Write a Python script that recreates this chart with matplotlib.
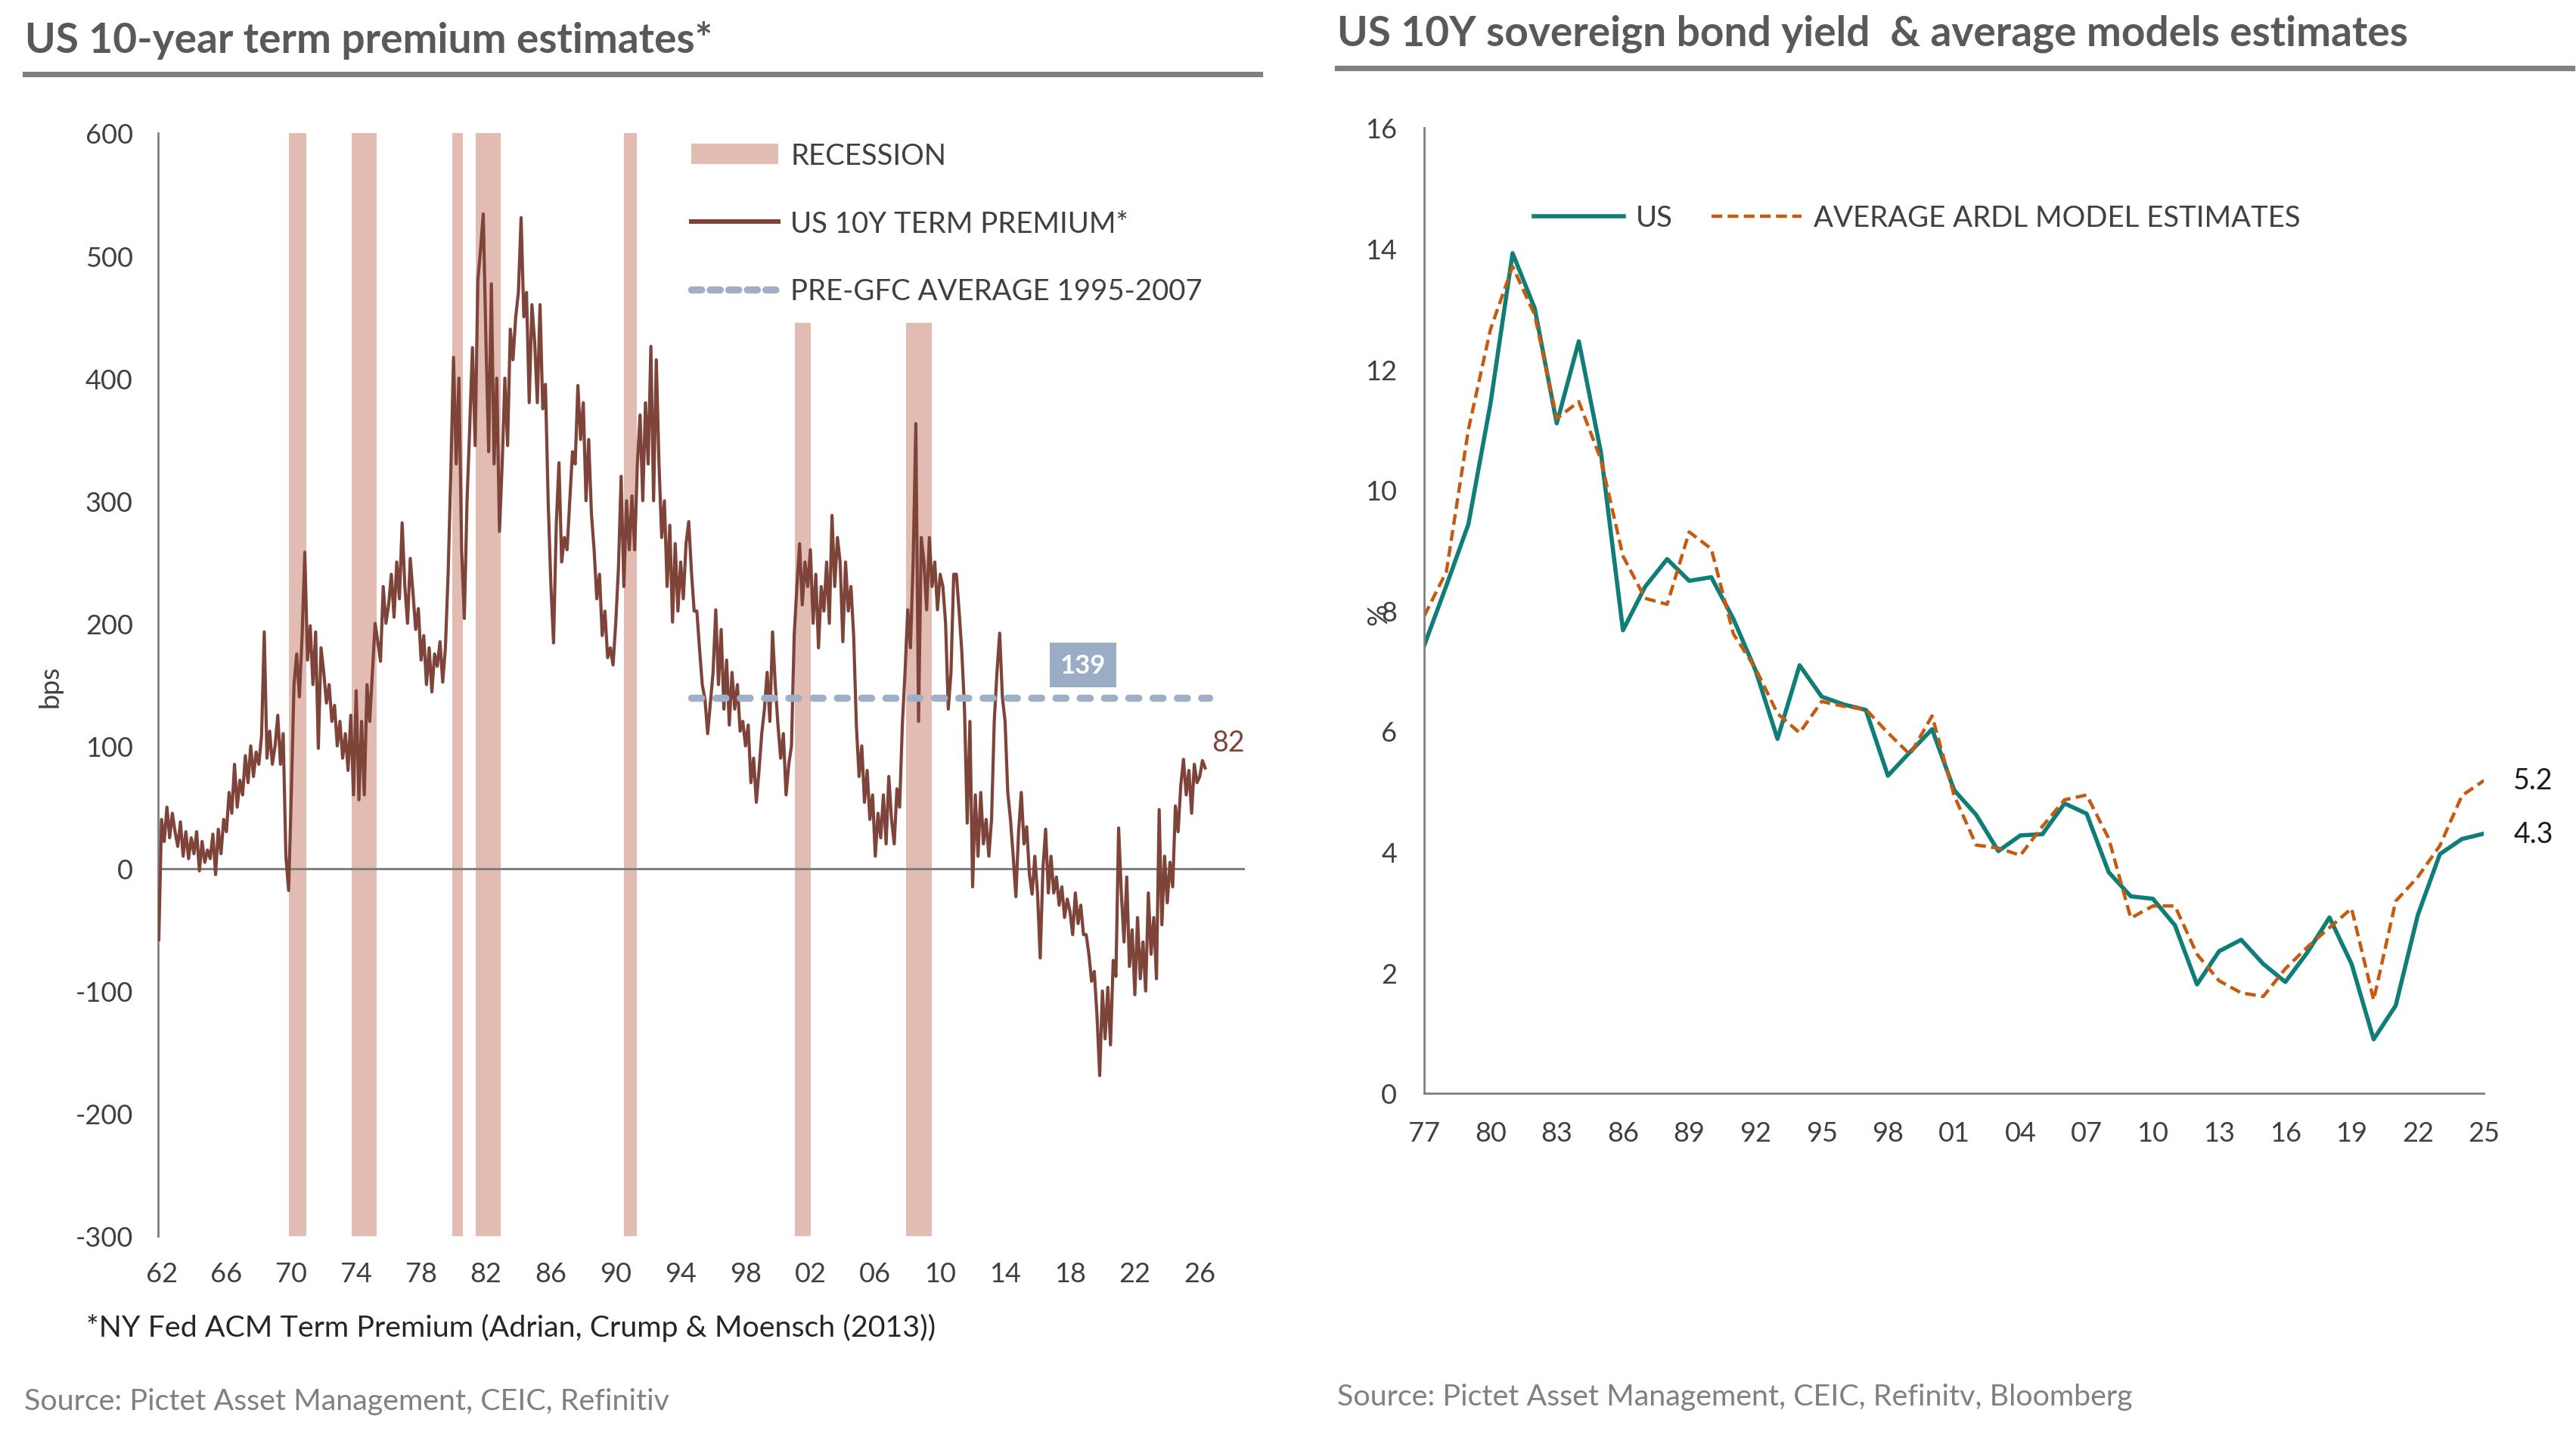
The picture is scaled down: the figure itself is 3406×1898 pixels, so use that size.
import numpy as np
import matplotlib
matplotlib.use('Agg')
import matplotlib.pyplot as plt
from matplotlib.lines import Line2D
from matplotlib.patches import Patch

plt.rcParams['font.family'] = ['Lato', 'DejaVu Sans']

# ---- left panel: ACM 10y term premium (bps), bimonthly readings from late 1961
tp_start = 1961.83
tp_step = 1 / 6
tp_values = [
    -58,
    40, 22, 50, 25, 45, 30,          # 1962
    18, 38, 10, 30, 8, 25,           # 1963
    12, 30, -2, 22, 5, 15,           # 1964
    8, 28, -5, 32, 12, 40,           # 1965
    30, 62, 45, 85, 50, 72,          # 1966
    60, 92, 70, 100, 75, 95,         # 1967
    85, 108, 193, 90, 112, 85,       # 1968
    100, 125, 85, 110, 10, -18,      # 1969
    60, 150, 175, 140, 190, 258,     # 1970
    170, 198, 150, 193, 98, 180,     # 1971
    160, 135, 150, 120, 133, 100,    # 1972
    120, 90, 110, 80, 125, 60,       # 1973
    145, 56, 120, 60, 150, 120,      # 1974
    160, 200, 185, 169, 230, 200,    # 1975
    215, 240, 205, 250, 220, 282,    # 1976
    230, 200, 253, 225, 195, 212,    # 1977
    170, 190, 150, 180, 144, 175,    # 1978
    165, 185, 152, 180, 240, 323,    # 1979
    417, 330, 400, 260, 204, 300,    # 1980
    360, 425, 345, 480, 505, 534,    # 1981
    430, 340, 477, 330, 400, 275,    # 1982
    330, 400, 345, 440, 415, 450,    # 1983
    470, 531, 450, 470, 380, 460,    # 1984
    430, 380, 460, 375, 395, 300,    # 1985
    232, 184, 280, 331, 250, 270,    # 1986
    260, 300, 340, 330, 394, 350,    # 1987
    380, 300, 350, 290, 260, 220,    # 1988
    240, 190, 210, 172, 180, 166,    # 1989
    200, 245, 320, 230, 300, 260,    # 1990
    304, 260, 330, 370, 300, 380,    # 1991
    330, 426, 300, 415, 330, 270,    # 1992
    300, 230, 280, 201, 265, 210,    # 1993
    250, 220, 265, 283, 242, 210,    # 1994
    210, 179, 150, 138, 110, 135,    # 1995
    160, 211, 150, 195, 130, 170,    # 1996
    117, 160, 130, 150, 112, 120,    # 1997
    100, 117, 70, 90, 54, 80,        # 1998
    110, 130, 160, 120, 193, 150,    # 1999
    117, 90, 110, 60, 85, 100,       # 2000
    190, 230, 265, 215, 250, 230,    # 2001
    260, 200, 240, 180, 230, 210,    # 2002
    250, 200, 288, 230, 270, 250,    # 2003
    185, 250, 210, 230, 190, 117,    # 2004
    75, 100, 54, 80, 40, 60,         # 2005
    10, 45, 25, 60, 20, 75,          # 2006
    40, 20, 65, 50, 117, 160,        # 2007
    211, 180, 250, 363, 120, 270,    # 2008
    250, 211, 270, 230, 250, 211,    # 2009
    240, 230, 200, 130, 160, 240,    # 2010
    240, 210, 177, 130, 37, 120,     # 2011
    -15, 60, 10, 62, 20, 40,         # 2012
    10, 40, 120, 160, 192, 140,      # 2013
    120, 62, 40, 10, -23, 30,        # 2014
    62, 20, 34, -5, -21, 10,         # 2015
    -20, -73, 0, 32, -20, 10,        # 2016
    -20, -7, -30, -15, -40, -25,     # 2017
    -35, -54, -20, -45, -30, -54,    # 2018
    -54, -70, -92, -84, -120, -169,  # 2019
    -100, -139, -97, -144, -75, -88,  # 2020
    33, -20, -60, -7, -80, -50,      # 2021
    -103, -40, -90, -60, -100, -20,  # 2022
    -70, -40, -90, 48, -46, 10,      # 2023
    -28, 5, -15, 51, 30, 68,         # 2024
    89, 60, 80, 45, 85, 70,          # 2025
    75, 88, 82,                      # 2026
]
rec_start = [1969.83, 1973.72, 1979.94, 1981.36, 1990.5, 2001.02, 2007.9]
rec_end = [1970.94, 1975.24, 1980.55, 1982.92, 1991.3, 2002.03, 2009.5]
rec_top = [600, 600, 600, 600, 600, 445, 445]
pre_gfc_avg = 139
pre_gfc_span = [1994.65, 2026.6]
left_ticks = list(range(1962, 2027, 4))

# ---- right panel: US 10y yield vs average ARDL model estimates (%)
years = list(range(1977, 2026))
us_10y = [7.42, 8.41, 9.43, 11.43, 13.92, 13.01, 11.10, 12.46, 10.62, 7.67,
          8.39, 8.85, 8.49, 8.55, 7.86, 7.01, 5.87, 7.09, 6.57, 6.44,
          6.35, 5.26, 5.65, 6.03, 5.02, 4.61, 4.01, 4.27, 4.29, 4.80,
          4.63, 3.66, 3.26, 3.22, 2.78, 1.80, 2.35, 2.54, 2.14, 1.84,
          2.33, 2.91, 2.14, 0.89, 1.45, 2.95, 3.96, 4.21, 4.30]
ardl_avg = [7.91, 8.64, 11.0, 12.66, 13.7, 12.9, 11.18, 11.46, 10.5, 8.9,
            8.2, 8.1, 9.3, 9.02, 7.61, 7.04, 6.29, 5.97, 6.49, 6.41,
            6.36, 5.97, 5.61, 6.25, 4.93, 4.11, 4.06, 3.94, 4.42, 4.86,
            4.94, 4.22, 2.90, 3.10, 3.10, 2.30, 1.86, 1.66, 1.60, 2.06,
            2.42, 2.74, 3.06, 1.54, 3.18, 3.58, 4.10, 4.93, 5.18]
right_ticks = list(range(1977, 2026, 3))

BROWN = '#7E4439'
REC = '#E2BCB3'
AVG = '#9FB0C6'
TEAL = '#0E7E76'
ORANGE = '#C55A11'
TXT = '#404040'
GREY = '#808080'

fig = plt.figure(figsize=(17.03, 9.495), dpi=200)

# ---------------- left chart
ax = fig.add_axes([0.0614, 0.1385, 0.4218, 0.7683])
tp_x = tp_start + tp_step * np.arange(len(tp_values))

for s, e, t in zip(rec_start, rec_end, rec_top):
    ax.bar(s, t + 300, width=e - s, bottom=-300, align='edge', color=REC,
           linewidth=0, zorder=1)
ax.axhline(0, color=GREY, lw=1.1, zorder=2)
ax.plot(tp_x, tp_values, color=BROWN, lw=1.5, zorder=3)
ax.plot(pre_gfc_span, [pre_gfc_avg, pre_gfc_avg], color=AVG, lw=3.4,
        dashes=(1.4, 2.0), dash_capstyle='round', zorder=4)
ax.text(2018.8, 166, f'{pre_gfc_avg}', ha='center', va='center', color='white',
        fontsize=12.5, fontweight='bold', zorder=5,
        bbox=dict(boxstyle='square,pad=0.4', fc='#9AADC4', ec='none'))
ax.annotate(f'{tp_values[-1]:.0f}', xy=(tp_x[-1], tp_values[-1]),
            xytext=(3, 12), textcoords='offset points', ha='left',
            va='center', color=BROWN, fontsize=13.5)

ax.set_xlim(1961.79, 2028.77)
ax.set_ylim(-300, 600)
ax.set_yticks(range(-300, 601, 100))
ax.set_yticklabels([str(v) for v in range(-300, 601, 100)])
ax.set_xticks(left_ticks)
ax.set_xticklabels([f'{y % 100:02d}' for y in left_ticks])
ax.tick_params(length=0, labelsize=13, labelcolor=TXT)
ax.tick_params(axis='y', pad=12)
ax.tick_params(axis='x', pad=12)
for side in ['top', 'right', 'bottom']:
    ax.spines[side].set_visible(False)
ax.spines['left'].set_color(GREY)
ax.spines['left'].set_linewidth(1.0)
ax.set_ylabel('bps', fontsize=13, color=TXT)
ax.yaxis.set_label_coords(-0.088, 0.499)

left_handles = [
    Patch(facecolor=REC, edgecolor='none'),
    Line2D([], [], color=BROWN, lw=2.2),
    Line2D([], [], color=AVG, lw=3.4, dashes=(1.4, 1.2), dash_capstyle='round'),
]
ax.legend(left_handles, ['RECESSION', 'US 10Y TERM PREMIUM*',
                         'PRE-GFC AVERAGE 1995-2007'],
          loc='upper left', bbox_to_anchor=(0.2684, 0.9005),
          bbox_transform=fig.transFigure, frameon=False, fontsize=13.8,
          labelcolor=TXT, handlelength=3.0, handletextpad=0.42,
          labelspacing=1.4, borderpad=0, borderaxespad=0)

# ---------------- right chart
ax2 = fig.add_axes([0.5529, 0.2382, 0.4114, 0.6723])
ax2.plot(years, us_10y, color=TEAL, lw=2.0, label='US')
ax2.plot(years, ardl_avg, color=ORANGE, lw=1.6, dashes=(3.2, 1.6),
         label='AVERAGE ARDL MODEL ESTIMATES')
for v in [ardl_avg[-1], us_10y[-1]]:
    ax2.annotate(f'{v:.1f}', xy=(years[-1], v), xytext=(14, 0),
                 textcoords='offset points', va='center', fontsize=13.5,
                 color='#1a1a1a')

ax2.set_xlim(1977, 2025)
ax2.set_ylim(0, 16)
ax2.set_yticks(range(0, 17, 2))
ax2.set_xticks(right_ticks)
ax2.set_xticklabels([f'{y % 100:02d}' for y in right_ticks])
ax2.tick_params(length=0, labelsize=13, labelcolor=TXT)
ax2.tick_params(axis='y', pad=13)
ax2.tick_params(axis='x', pad=13)
for side in ['top', 'right']:
    ax2.spines[side].set_visible(False)
for side in ['left', 'bottom']:
    ax2.spines[side].set_color(GREY)
    ax2.spines[side].set_linewidth(1.0)
ax2.set_ylabel('%', fontsize=13, color=TXT)
ax2.yaxis.set_label_coords(-0.031, 0.497)
ax2.legend(loc='upper left', bbox_to_anchor=(0.5954, 0.8573),
           bbox_transform=fig.transFigure, ncol=2, frameon=False, fontsize=13.8,
           labelcolor=TXT, handlelength=3.1, handletextpad=0.42,
           columnspacing=1.35, borderpad=0, borderaxespad=0)

# ---------------- titles, rules and notes
fig.text(0.0097, 0.9633, 'US 10-year term premium estimates*', fontsize=19.8,
         fontweight='bold', color='#595959', va='baseline')
fig.text(0.5192, 0.968, 'US 10Y sovereign bond yield  & average models estimates',
         fontsize=19.8, fontweight='bold', color='#595959', va='baseline')
fig.add_artist(Line2D([0.0096, 0.489], [0.948, 0.948], transform=fig.transFigure,
                      color=GREY, lw=2.6))
fig.add_artist(Line2D([0.5192, 0.9985], [0.952, 0.952], transform=fig.transFigure,
                      color=GREY, lw=2.6))
fig.text(0.0334, 0.0692, '*NY Fed ACM Term Premium (Adrian, Crump & Moensch (2013))',
         fontsize=14.2, color='#262626', va='baseline')
fig.text(0.0095, 0.0179, 'Source: Pictet Asset Management, CEIC, Refinitiv',
         fontsize=14.2, color=GREY, va='baseline')
fig.text(0.5192, 0.0212, 'Source: Pictet Asset Management, CEIC, Refinitv, Bloomberg',
         fontsize=14.2, color=GREY, va='baseline')

fig.savefig('out.png', dpi=200)
